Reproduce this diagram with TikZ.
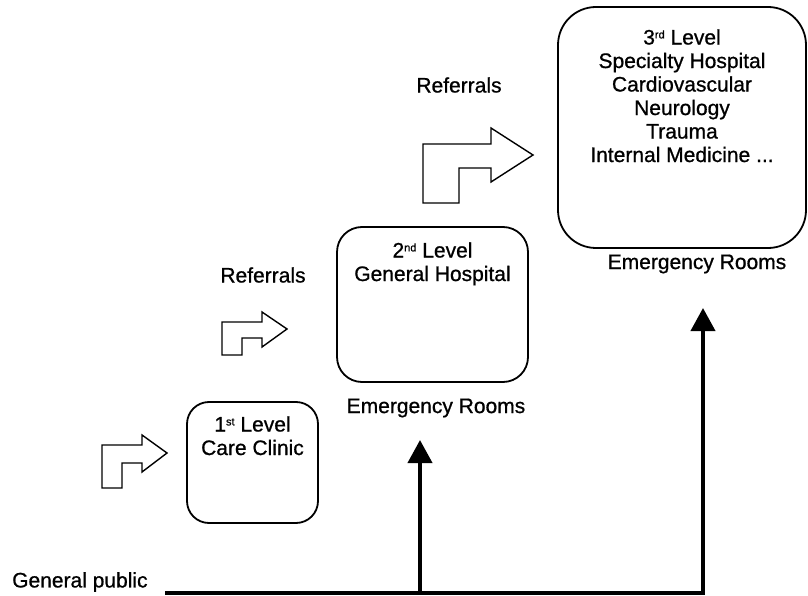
\documentclass[tikz,border=0pt]{standalone}
\usepackage{fontspec}
\setmainfont[FakeBold=0.8]{Liberation Sans}
\usetikzlibrary{arrows.meta}
\newcommand{\sups}[1]{\raisebox{0.55ex}{\fontsize{11}{11}\selectfont #1}}
\begin{document}
\begin{tikzpicture}[x=1pt,y=-1pt,
  every node/.style={font=\fontsize{21}{23.5}\selectfont, inner sep=0pt},
  levelbox/.style={draw, line width=1.8pt, inner sep=0pt},
  boxtext/.style={align=center, anchor=north},
  bent/.style={draw, line width=1.4pt, line join=miter, fill=white},
  feed/.style={line width=4pt, -{Triangle[width=24pt,length=23pt]}}
]
\useasboundingbox (0,0) rectangle (808,596);

% level boxes
\node[levelbox, rounded corners=22pt, minimum width=131pt, minimum height=121pt] (b1) at (252.5,462.5) {};
\node[levelbox, rounded corners=25pt, minimum width=191pt, minimum height=155pt] (b2) at (432.5,304.5) {};
\node[levelbox, rounded corners=38pt, minimum width=248pt, minimum height=241pt] (b3) at (682,127.5) {};

\node[boxtext] (t1) at ([yshift=-15pt]b1.north) {1\sups{st} Level\\Care Clinic};
\node[boxtext] (t2) at ([yshift=-16pt]b2.north) {2\sups{nd} Level\\General Hospital};
\node[boxtext] (t3) at ([yshift=-23pt]b3.north) {3\sups{rd} Level\\Specialty Hospital\\Cardiovascular\\Neurology\\Trauma\\Internal Medicine ...};

% labels
\node (er2) at (436,408) {Emergency Rooms};
\node (er3) at (697,264) {Emergency Rooms};
\node (ref1) at (263,275) {Referrals};
\node (ref2) at (459,85) {Referrals};
\node[anchor=west] (gp) at (12,582) {General public};

% bent referral arrows
\draw[bent] (102,488) -- (102,445) -- (142,445) -- (142,435) -- (167,453) -- (142,472) -- (142,463) -- (122,463) -- (122,488) -- cycle;
\draw[bent] (222,355) -- (222,322) -- (262,322) -- (262,312) -- (287,329) -- (262,347) -- (262,338) -- (242,338) -- (242,355) -- cycle;
\draw[bent] (423,203) -- (423,144) -- (491,144) -- (491,128) -- (533,155) -- (491,182) -- (491,168) -- (459,168) -- (459,203) -- cycle;

% general public flow
\coordinate (start) at (165,593);
\coordinate (j1) at (420,593);
\coordinate (tip1) at (420,440);
\coordinate (corner) at (703,593);
\coordinate (tip2) at (703,308);
\draw[feed, line join=miter] (start) -- (corner) -- (tip2);
\draw[feed] (j1) -- (tip1);
\end{tikzpicture}
\end{document}
